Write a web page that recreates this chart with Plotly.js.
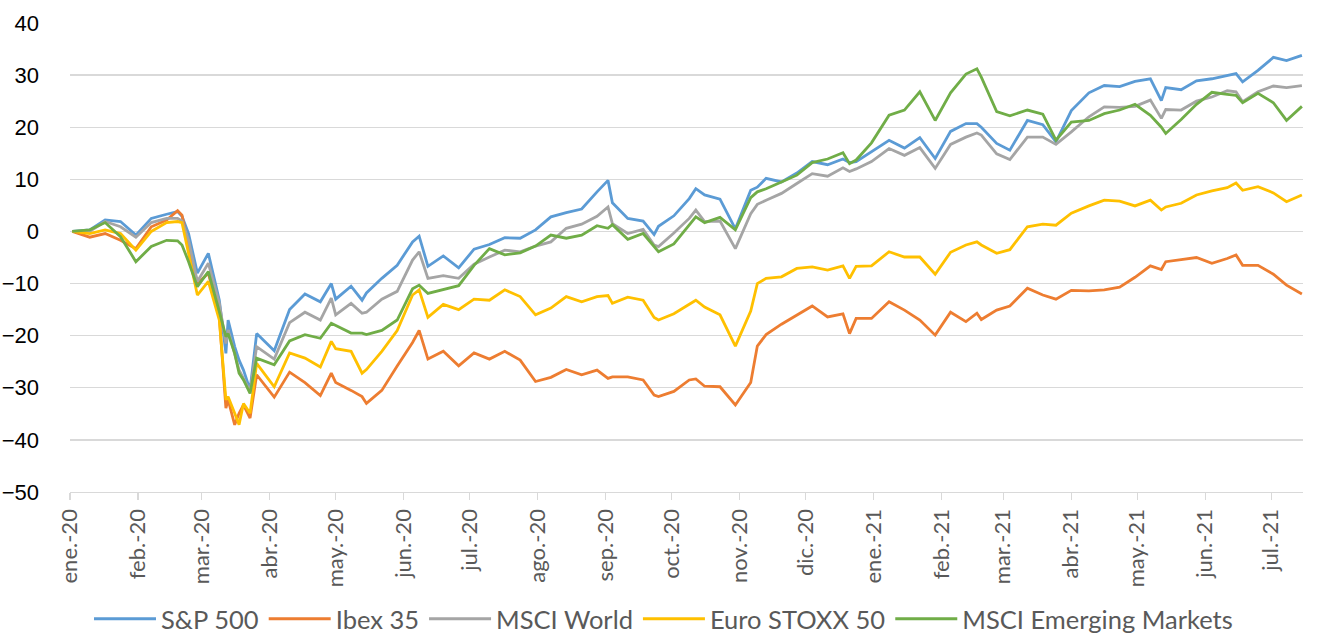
<!DOCTYPE html>
<html>
<head>
<meta charset="utf-8">
<script src="https://cdn.plot.ly/plotly-3.0.1.min.js"></script>
<style>
  html, body { margin: 0; padding: 0; background: #ffffff; }
  #chart { width: 1327px; height: 637px; }
</style>
</head>
<body>
<div id="chart"></div>
<script>
// Dates of the points
const dates = [
  "2020-01-02","2020-01-10","2020-01-17","2020-01-24","2020-01-31",
  "2020-02-07","2020-02-14","2020-02-19","2020-02-21","2020-02-24",
  "2020-02-28","2020-03-04","2020-03-09","2020-03-12","2020-03-13",
  "2020-03-16","2020-03-18","2020-03-20","2020-03-23","2020-03-26",
  "2020-04-03","2020-04-10","2020-04-17","2020-04-24","2020-04-29",
  "2020-05-01","2020-05-08","2020-05-13","2020-05-15","2020-05-22",
  "2020-05-29","2020-06-05","2020-06-08","2020-06-12","2020-06-19",
  "2020-06-26","2020-07-03","2020-07-10","2020-07-17","2020-07-24",
  "2020-07-31","2020-08-07","2020-08-14","2020-08-21","2020-08-28",
  "2020-09-02","2020-09-04","2020-09-11","2020-09-18","2020-09-23",
  "2020-09-25","2020-10-02","2020-10-09","2020-10-12","2020-10-16",
  "2020-10-23","2020-10-30","2020-11-06","2020-11-09","2020-11-13",
  "2020-11-20","2020-11-27","2020-12-04","2020-12-11","2020-12-18",
  "2020-12-21","2020-12-24","2020-12-31","2021-01-08","2021-01-15",
  "2021-01-22","2021-01-29","2021-02-05","2021-02-12","2021-02-17",
  "2021-02-19","2021-02-26","2021-03-04","2021-03-12","2021-03-19",
  "2021-03-25","2021-04-01","2021-04-09","2021-04-16","2021-04-23",
  "2021-04-30","2021-05-07","2021-05-12","2021-05-14","2021-05-21",
  "2021-05-28","2021-06-04","2021-06-11","2021-06-15","2021-06-18",
  "2021-06-25","2021-07-02","2021-07-08","2021-07-15"
];

const seriesNames = ["S&P 500", "Ibex 35", "MSCI World", "Euro STOXX 50", "MSCI Emerging Markets"];

const sp500 = [
  0, 0.3, 2.2, 1.9, -0.7, 2.5, 3.3, 3.8, 2.9, -0.4,
  -8, -4.2, -13.2, -23.4, -17, -22.1, -24.7, -26.6, -30.4, -19.6,
  -22.9, -15, -12, -13.5, -10, -13, -10.5, -13.2, -11.8, -9,
  -6.5, -2, -0.9, -6.7, -4.7, -7, -3.4, -2.5, -1.2, -1.3,
  0.3, 2.8, 3.6, 4.3, 7.6, 9.8, 5.5, 2.5, 2, -0.6,
  1, 3, 6.3, 8.2, 7, 6.2, 0.5, 7.9, 8.5, 10.2,
  9.5, 11.2, 13.4, 12.8, 13.9, 13.2, 13.4, 15.3, 17.5, 16,
  18, 14, 19.2, 20.7, 20.7, 20, 16.9, 15.6, 21.3, 20.5,
  17.2, 23.2, 26.6, 28, 27.8, 28.8, 29.3, 25.1, 27.6, 27.2,
  28.9, 29.3, 30, 30.3, 28.7, 30.9, 33.4, 32.8, 33.8
];

const ibex35 = [
  0, -1.1, -0.4, -1.7, -3.3, 0.9, 2.2, 4.0, 3.1, -2.9,
  -10, -8, -16.4, -33.9, -32.3, -37.1, -34.9, -33.3, -35.8, -27.5,
  -31.8, -27, -29, -31.5, -27.2, -29, -30.5, -31.7, -33, -30.5,
  -25.8, -21.3, -19, -24.5, -23, -25.8, -23.3, -24.5, -23, -24.7,
  -28.8, -28, -26.5, -27.5, -26.6, -28.2, -27.9, -27.9, -28.5, -31.4,
  -31.7, -30.7, -28.5, -28.3, -29.7, -29.8, -33.3, -29, -22, -19.8,
  -17.8, -16, -14.3, -16.4, -15.8, -19.6, -16.7, -16.7, -13.5, -15.1,
  -17, -19.9, -15.5, -17.3, -15.7, -16.9, -15.1, -14.3, -10.9, -12.2,
  -13, -11.3, -11.4, -11.2, -10.7, -8.8, -6.6, -7.3, -5.8, -5.4,
  -5, -6.1, -5.2, -4.5, -6.5, -6.5, -8.2, -10.3, -12
];

const msciWorld = [
  0, 0, 1.9, 0.9, -1.1, 1.7, 2.5, 2.5, 2, -1.7,
  -9.6, -6.1, -13.8, -21.5, -18.9, -23.4, -26.6, -28.2, -30.7, -22.1,
  -24.5, -17.5, -15.5, -17, -12.8, -16, -13.8, -15.7, -15.5, -13,
  -11.5, -5.5, -3.9, -9, -8.5, -9, -6.3, -4.9, -3.6, -3.9,
  -2.8, -2, 0.6, 1.4, 2.9, 4.7, 1.5, -0.4, 0.4, -2.6,
  -2.9, -0.3, 2.5, 4.1, 1.9, 2, -3.3, 3.4, 5.2, 6,
  7.3, 9.2, 11.1, 10.6, 12.2, 11.5, 12, 13.4, 15.9, 14.6,
  16.1, 12.1, 16.7, 18.1, 18.9, 18.5, 14.9, 13.8, 18.1, 18.1,
  16.7, 19.1, 22, 23.9, 23.8, 24, 25.2, 21.7, 23.4, 23.3,
  25, 25.8, 27, 26.8, 24.9, 26.8, 27.9, 27.6, 28
];

const euroStoxx50 = [
  0, -0.4, 0.3, -0.4, -3.6, 0, 1.7, 1.9, 1.7, -4.2,
  -12.2, -9.6, -17, -32.3, -31.7, -34.9, -37.1, -33, -34.9, -25.3,
  -29.8, -23.3, -24.3, -26, -21.1, -22.5, -23, -27.2, -26.5, -23,
  -19, -12.2, -11.2, -16.5, -14, -15, -13, -13.2, -11.2, -12.5,
  -16, -14.7, -12.5, -13.5, -12.5, -12.3, -13.8, -12.6, -13.2, -16.5,
  -17, -15.8, -14, -13.2, -14.5, -16, -22, -15.3, -10, -9,
  -8.7, -7.1, -6.8, -7.4, -6.6, -9, -6.7, -6.6, -3.9, -4.9,
  -4.9, -8.2, -4, -2.6, -2, -2.6, -4.2, -3.5, 0.9, 1.4,
  1.2, 3.5, 4.9, 6, 5.8, 4.9, 6, 4.1, 4.7, 5.4,
  7, 7.8, 8.4, 9.3, 7.9, 8.6, 7.4, 5.7, 7
];

const msciEM = [
  0, 0.3, 1.7, -1, -5.8, -2.9, -1.7, -1.8, -2.6, -5.8,
  -10.6, -7.7, -15.4, -20.2, -19.6, -23.4, -27.2, -28.5, -31.1, -24.3,
  -25.6, -21, -19.8, -20.5, -17.6, -18, -19.5, -19.5, -19.8, -19,
  -17, -11, -10.3, -11.9, -11.2, -10.4, -6.5, -3.3, -4.5, -4.1,
  -2.8, -0.7, -1.3, -0.7, 1.1, 0.6, 1.3, -1.5, -0.4, -2.9,
  -3.9, -2.4, 1.4, 2.8, 1.7, 2.7, 0.3, 6.5, 7.6, 8.2,
  9.5, 10.8, 13.2, 13.9, 15.1, 13, 13.7, 17, 22.3, 23.3,
  26.8, 21.3, 26.6, 30.2, 31.2, 29.6, 23, 22.2, 23.3, 22.5,
  17.5, 21, 21.3, 22.6, 23.3, 24.4, 22.3, 20, 18.8, 21.5,
  24.4, 26.7, 26.3, 26.1, 24.7, 26.5, 24.7, 21.3, 24
];

// Axis tick labels (month starts)
const tickDates = [
  "2020-01-01","2020-02-01","2020-03-01","2020-04-01","2020-05-01","2020-06-01",
  "2020-07-01","2020-08-01","2020-09-01","2020-10-01","2020-11-01","2020-12-01",
  "2021-01-01","2021-02-01","2021-03-01","2021-04-01","2021-05-01","2021-06-01","2021-07-01"
];
const tickLabels = [
  "ene.-20","feb.-20","mar.-20","abr.-20","may.-20","jun.-20",
  "jul.-20","ago.-20","sep.-20","oct.-20","nov.-20","dic.-20",
  "ene.-21","feb.-21","mar.-21","abr.-21","may.-21","jun.-21","jul.-21"
];

const colors = ["#5B9BD5", "#ED7D31", "#A5A5A5", "#FFC000", "#70AD47"];
const values = [sp500, ibex35, msciWorld, euroStoxx50, msciEM];

const traces = values.map((v, i) => ({
  type: "scatter",
  mode: "lines",
  name: seriesNames[i],
  x: dates,
  y: v,
  line: { color: colors[i], width: 2.8 },
  hoverinfo: "x+y+name"
}));

const layout = {
  width: 1327,
  height: 637,
  paper_bgcolor: "#ffffff",
  plot_bgcolor: "#ffffff",
  margin: { l: 70, r: 23.5, t: 22.7, b: 144.7, pad: 0, autoexpand: false },
  showlegend: true,
  legend: {
    orientation: "h",
    xref: "container",
    yref: "container",
    x: 0.5,
    xanchor: "center",
    y: 0.028,
    yanchor: "middle",
    itemwidth: 62,
    font: { family: "Lato, 'Open Sans', sans-serif", size: 25.5, color: "#595959" },
    bgcolor: "rgba(0,0,0,0)",
    traceorder: "normal"
  },
  xaxis: {
    type: "date",
    automargin: false,
    range: ["2020-01-01", "2021-07-15 12:00"],
    tickmode: "array",
    tickvals: tickDates,
    ticktext: tickLabels,
    tickangle: -90,
    ticks: "outside",
    ticklen: 7,
    tickwidth: 1.3,
    tickcolor: "#D9D9D9",
    showline: true,
    linecolor: "#D9D9D9",
    linewidth: 1.3,
    showgrid: false,
    zeroline: false,
    tickfont: { family: "Lato, 'Open Sans', sans-serif", size: 22, color: "#595959" }
  },
  yaxis: {
    automargin: false,
    range: [-50, 40],
    tickmode: "linear",
    tick0: -50,
    dtick: 10,
    ticks: "",
    showline: false,
    zeroline: false,
    showgrid: true,
    gridcolor: "#D9D9D9",
    gridwidth: 1.3,
    ticklabelstandoff: 30,
    tickfont: { family: "'Liberation Sans', Arial, sans-serif", size: 22, color: "#000000" }
  }
};

Plotly.newPlot("chart", traces, layout, { displayModeBar: false, staticPlot: true });
</script>
</body>
</html>
